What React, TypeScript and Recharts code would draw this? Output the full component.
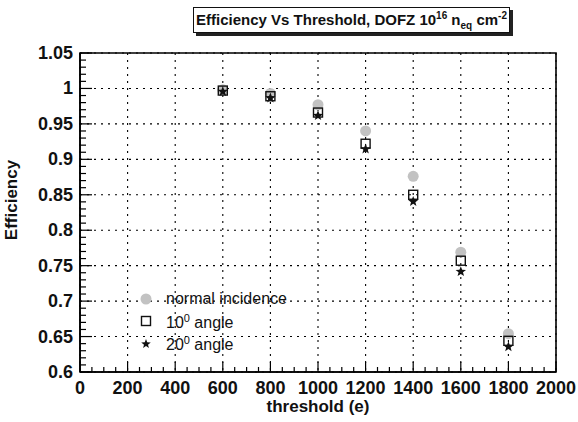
import React from 'react';
import {
  ScatterChart, Scatter, XAxis, YAxis, CartesianGrid, ReferenceArea, Legend,
} from 'recharts';

const thresholds = [600, 800, 1000, 1200, 1400, 1600, 1800];
const normalIncidence = [0.998, 0.993, 0.977, 0.940, 0.876, 0.769, 0.654];
const angle10 = [0.997, 0.989, 0.966, 0.922, 0.850, 0.757, 0.644];
const angle20 = [0.997, 0.988, 0.963, 0.916, 0.842, 0.743, 0.637];

const xTicks = [0, 200, 400, 600, 800, 1000, 1200, 1400, 1600, 1800, 2000];
const yTicks = [0.6, 0.65, 0.7, 0.75, 0.8, 0.85, 0.9, 0.95, 1, 1.05];
const yTickLabels = ['0.6', '0.65', '0.7', '0.75', '0.8', '0.85', '0.9', '0.95', '1', '1.05'];
const xAllTicks = Array.from({ length: 41 }, (_, i) => i * 50);
const yAllTicks = Array.from({ length: 46 }, (_, i) => Math.round((0.6 + i * 0.01) * 1000) / 1000);

const FONT = '"Liberation Sans", Arial, Helvetica, sans-serif';
const PLOT_LEFT = 80;
const PLOT_BOTTOM = 372;

const toPoints = (ys: number[]) => thresholds.map((x, i) => ({ x, y: ys[i] }));
const normalData = toPoints(normalIncidence);
const a10Data = toPoints(angle10);
const a20Data = toPoints(angle20);

// tick-mark positions (placed through the chart scales)
const xTickMarks = xAllTicks.map((x) => ({ x, y: 0.6, major: xTicks.includes(x) }));
const yTickMarks = yAllTicks.map((y) => ({ x: 0, y, major: yTicks.some((t) => Math.abs(t - y) < 1e-6) }));

const starPath = (cx: number, cy: number, R: number, r: number) => {
  const pts: string[] = [];
  for (let i = 0; i < 10; i++) {
    const rad = i % 2 === 0 ? R : r;
    const a = -Math.PI / 2 + (i * Math.PI) / 5;
    pts.push(`${(cx + rad * Math.cos(a)).toFixed(2)},${(cy + rad * Math.sin(a)).toFixed(2)}`);
  }
  return `M${pts.join('L')}Z`;
};

const CircleShape = (p: any) => <circle cx={p.cx} cy={p.cy} r={5.5} fill="#c2c2c2" />;
const SquareShape = (p: any) => (
  <rect x={p.cx - 4.5} y={p.cy - 4.5} width={9} height={9} fill="none" stroke="#111" strokeWidth={1.4} />
);
const StarShape = (p: any) => <path d={starPath(p.cx, p.cy + 1, 5.5, 2.3)} fill="#111" />;
const XTickMarkShape = (p: any) => (
  <line x1={p.cx} y1={p.cy} x2={p.cx} y2={p.cy - (p.payload && p.payload.major ? 10 : 5)} stroke="#000" strokeWidth={1.2} />
);
const YTickMarkShape = (p: any) => (
  <line x1={p.cx} y1={p.cy} x2={p.cx + (p.payload && p.payload.major ? 12 : 6)} y2={p.cy} stroke="#000" strokeWidth={1.2} />
);

const XTick = (p: any) => {
  const v = p.payload.value;
  if (!xTicks.includes(v)) return <g />;
  return (
    <text x={p.x} y={PLOT_BOTTOM + 22} textAnchor="middle" fontFamily={FONT} fontWeight="bold" fontSize={18} fill="#111">
      {v}
    </text>
  );
};
const YTick = (p: any) => {
  const idx = yTicks.findIndex((t) => Math.abs(t - p.payload.value) < 1e-6);
  if (idx < 0) return <g />;
  return (
    <text x={PLOT_LEFT - 7} y={p.y + 6} textAnchor="end" fontFamily={FONT} fontWeight="bold" fontSize={18} fill="#111">
      {yTickLabels[idx]}
    </text>
  );
};

const LegendContent = () => {
  const rows = [
    { shape: 'circle', label: <>normal incidence</> },
    { shape: 'square', label: <>10<sup style={{ fontSize: 11 }}>0</sup> angle</> },
    { shape: 'star', label: <>20<sup style={{ fontSize: 11 }}>0</sup> angle</> },
  ];
  return (
    <div style={{ fontFamily: FONT, fontSize: 16, color: '#111' }}>
      {rows.map((r, i) => (
        <div key={i} style={{ display: 'flex', alignItems: 'center', height: 22 }}>
          <svg width={31} height={22} style={{ flex: 'none' }}>
            {r.shape === 'circle' && <circle cx={11} cy={11} r={5.5} fill="#c2c2c2" />}
            {r.shape === 'square' && (
              <rect x={6.5} y={6.5} width={9} height={9} fill="none" stroke="#111" strokeWidth={1.4} />
            )}
            {r.shape === 'star' && <path d={starPath(11, 12, 5, 2.1)} fill="#111" />}
          </svg>
          <span style={{ lineHeight: '22px', whiteSpace: 'nowrap' }}>{r.label}</span>
        </div>
      ))}
    </div>
  );
};

export default function App() {
  return (
    <div style={{ position: 'absolute', left: 0, top: 0, width: 578, height: 422, background: '#fff' }}>
      <ScatterChart width={578} height={422} margin={{ top: 53, right: 22, left: 0, bottom: 0 }}>
        <CartesianGrid
          stroke="#000"
          strokeDasharray="2 5"
          strokeWidth={1.1}
          horizontalValues={yTicks}
          verticalValues={xTicks}
        />
        <ReferenceArea x1={0} x2={2000} y1={0.6} y2={1.05} fill="none" fillOpacity={0} stroke="#000" strokeWidth={1.6} />
        <XAxis
          type="number"
          dataKey="x"
          domain={[0, 2000]}
          ticks={xAllTicks}
          interval={0}
          height={50}
          tickSize={-10}
          tickMargin={0}
          tickLine={{ stroke: 'none' }}
          axisLine={{ stroke: '#000', strokeWidth: 1.6 }}
          tick={<XTick />}
          label={{
            content: () => (
              <text x={318} y={412} textAnchor="middle" fontFamily={FONT} fontWeight="bold" fontSize={17} fill="#111">
                threshold (e)
              </text>
            ),
          }}
        />
        <YAxis
          type="number"
          dataKey="y"
          domain={[0.6, 1.05]}
          ticks={yAllTicks}
          interval={0}
          width={80}
          tickSize={-10}
          tickMargin={0}
          tickLine={{ stroke: 'none' }}
          axisLine={{ stroke: '#000', strokeWidth: 1.6 }}
          tick={<YTick />}
          label={{
            content: () => (
              <text
                x={17}
                y={200}
                transform="rotate(-90, 17, 200)"
                textAnchor="middle"
                fontFamily={FONT}
                fontWeight="bold"
                fontSize={17}
                fill="#111"
              >
                Efficiency
              </text>
            ),
          }}
        />
        <Scatter name="x ticks" data={xTickMarks} shape={<XTickMarkShape />} isAnimationActive={false} legendType="none" />
        <Scatter name="y ticks" data={yTickMarks} shape={<YTickMarkShape />} isAnimationActive={false} legendType="none" />
        <Scatter name="normal incidence" data={normalData} shape={<CircleShape />} isAnimationActive={false} />
        <Scatter name="10 angle" data={a10Data} shape={<SquareShape />} isAnimationActive={false} />
        <Scatter name="20 angle" data={a20Data} shape={<StarShape />} isAnimationActive={false} />
        <Legend
          layout="horizontal"
          align="center"
          verticalAlign="middle"
          content={<LegendContent />}
          wrapperStyle={{ position: 'absolute', left: 135, top: 288, width: 200 }}
        />
      </ScatterChart>
      <div
        style={{
          position: 'absolute',
          left: 193,
          top: 7,
          width: 317,
          height: 26,
          border: '1.5px solid #111',
          boxShadow: '3px 3px 0 #222',
          background: '#fff',
          fontFamily: FONT,
          fontWeight: 'bold',
          fontSize: 15,
          color: '#111',
          textAlign: 'center',
          lineHeight: '24px',
          whiteSpace: 'nowrap',
          boxSizing: 'border-box',
        }}
      >
        Efficiency Vs Threshold, DOFZ 10<sup style={{ fontSize: 10, lineHeight: 0 }}>16</sup> n
        <sub style={{ fontSize: 10, lineHeight: 0 }}>eq</sub> cm<sup style={{ fontSize: 10, lineHeight: 0 }}>-2</sup>
      </div>
    </div>
  );
}
